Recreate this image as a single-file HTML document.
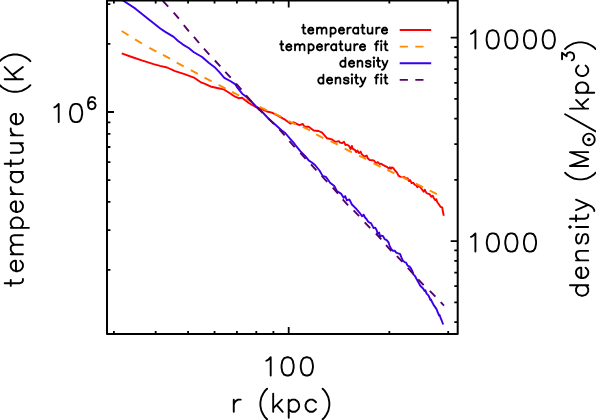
<!DOCTYPE html><html><head><meta charset="utf-8"><title>plot</title><style>html,body{margin:0;padding:0;background:#fff}svg{display:block}</style></head><body>
<svg width="596" height="420" viewBox="0 0 596 420">
<rect x="0" y="0" width="596" height="420" fill="#fff"/>
<defs><clipPath id="c"><rect x="107.0" y="0.4" width="350.7" height="333.6"/></clipPath></defs>
<g clip-path="url(#c)" fill="none" stroke-linejoin="round">
<path d="M121.7 53.4L131.8 57.0L141.8 60.4L153.6 64.1L160.0 65.8L167.1 67.5L175.1 71.1L184.5 74.2L194.6 77.9L200.4 82.1L205.0 83.8L211.5 86.8L220.5 88.7L224.3 89.7L229.5 93.0L235.1 96.7L238.7 98.2L242.2 97.7L245.2 100.2L249.2 103.2L255.3 106.8L259.3 108.1L266.9 111.5L271.9 112.7L278.7 116.1L285.4 119.9L290.2 123.5L293.6 122.3L299.4 125.2L302.8 124.0L304.5 126.8L308.7 126.8L313.7 130.5L318.7 131.0L322.1 132.7L327.1 138.3L332.1 139.4L335.5 141.9L338.9 141.1L340.0 142.6L342.0 143.1L344.0 141.8L345.5 145.1L347.0 144.6L349.1 146.1L350.6 149.1L351.9 145.9L352.6 148.6L355.1 150.1L356.1 152.1L357.3 150.6L359.1 153.1L360.6 151.6L361.7 154.1L364.2 156.7L366.7 155.6L367.7 158.2L369.7 160.0L372.2 160.2L374.2 160.7L375.8 163.2L377.8 162.2L379.8 164.2L381.3 163.7L383.3 165.2L385.3 166.2L387.3 167.2L388.8 168.7L389.9 167.2L390.9 168.7L391.9 167.4L393.4 168.2L395.0 170.5L397.0 172.6L398.5 175.6L400.0 176.6L402.0 177.1L404.1 176.9L406.1 178.6L407.6 178.1L409.1 181.1L410.1 180.1L411.6 183.1L413.1 182.6L414.6 184.6L416.1 185.1L417.4 187.2L418.7 185.6L420.7 187.7L422.2 189.7L423.7 191.7L424.7 189.7L426.2 192.7L427.7 193.7L429.7 194.2L431.3 196.7L432.8 195.7L433.8 198.2L435.3 200.2L436.3 199.2L437.3 202.3L438.8 204.3L440.3 206.6L442.3 207.7L442.8 211.3L443.8 215.8" stroke="#ff0000" stroke-width="1.9"/>
<path d="M121.7 31.0L128.5 35.2M135.1 39.4L141.9 43.5M149.4 47.8L156.4 51.7M163.0 54.9L170.0 58.7M176.7 62.6L183.7 66.4M190.8 70.1L197.8 73.9M204.5 77.6L211.6 81.4M218.6 84.9L225.7 88.6M232.0 91.8L239.1 95.5M246.1 99.0L253.1 102.8M259.8 106.8L266.9 110.4M274.3 113.4L281.5 116.9M288.5 121.0L295.7 124.4M302.8 126.8L310.0 130.3M316.2 134.4L323.3 138.1M330.5 141.1L337.7 144.7M344.7 148.7L351.8 152.3M359.1 155.6L366.2 159.2M373.5 163.2L380.6 166.8M387.2 169.9L394.4 173.4M401.2 176.6L408.4 180.1M415.8 183.6L423.0 187.1M429.7 190.5L436.9 194.1" stroke="#ff8c00" stroke-width="1.9"/>
<path d="M120.5 -1.2L123.4 0.8L135.1 8.4L148.6 19.3L160.3 28.5L165.3 31.9L173.7 36.9L177.8 40.7L183.0 44.6L188.7 48.0L193.9 52.2L202.1 57.0L208.7 62.8L215.3 67.8L219.4 72.2L224.3 77.8L230.2 81.0L235.1 84.1L236.8 86.8L242.2 93.7L248.2 98.3L253.7 104.0L259.3 109.8L261.9 111.5L268.4 118.5L276.8 126.0L281.8 130.5L285.2 133.0L290.2 138.8L294.2 143.4L295.0 144.6L300.3 151.2L305.3 156.2L308.7 160.4L311.5 162.2L315.0 165.0L319.5 170.5L322.6 175.9L325.9 176.8L330.1 182.7L334.3 186.0L336.8 191.0L341.0 193.6L343.6 197.8L345.2 196.1L346.9 200.3L349.4 199.4L351.9 204.5L356.1 208.7L360.2 213.5L362.0 216.2L363.7 214.7L365.0 217.5L366.5 219.0L368.0 221.5L369.5 222.6L371.0 223.1L372.6 226.1L373.6 228.1L375.1 227.6L376.6 230.1L377.6 233.6L379.1 232.6L380.1 236.7L381.6 235.6L383.1 236.1L384.6 239.2L386.7 240.2L388.7 242.7L389.7 246.2L391.2 248.7L392.7 250.8L394.7 250.6L396.2 252.6L398.2 253.3L400.0 253.8L401.5 257.6L402.9 260.6L404.6 262.1L406.1 262.6L407.6 265.6L409.6 266.6L411.1 268.6L412.6 271.7L413.6 274.7L415.1 276.2L416.7 279.2L418.7 282.7L420.3 285.8L423.1 288.5L424.6 290.9L425.3 290.2L426.6 293.6L428.6 295.6L430.4 299.9L431.0 299.6L431.7 301.3L433.7 305.1L436.4 308.9L437.7 312.2L439.0 315.4L439.6 315.0L440.7 318.2L443.2 324.5" stroke="#3a00e8" stroke-width="1.9"/>
<path d="M151.6 -11.4L157.0 -5.5M162.8 0.8L168.2 6.7M173.7 12.6L178.9 18.7M183.8 25.2L188.9 31.4M193.9 36.9L199.1 43.0M204.0 48.7L209.3 54.7M214.9 60.5L220.3 66.4M225.3 71.8L230.7 77.7M236.1 83.6L241.4 89.6M246.1 95.3L251.4 101.3M257.0 107.0L262.5 112.8M268.4 118.5L274.0 124.2M279.3 129.4L284.7 135.3M289.4 141.1L294.7 147.1M300.3 152.9L305.7 158.8M311.0 164.4L316.4 170.3M321.7 175.9L327.2 181.8M332.7 187.7L338.0 193.7M342.7 199.4L348.1 205.3M353.6 210.3L359.1 216.1M364.7 222.3L370.2 228.1M375.9 233.5L381.3 239.4M386.0 245.2L391.4 251.1M396.9 256.1L402.4 261.9M407.8 267.9L413.2 273.8M418.2 279.3L423.7 285.1M429.8 290.9L435.4 296.6M440.7 302.2L444.0 305.6" stroke="#56006a" stroke-width="1.9"/>
</g>
<rect x="107.0" y="0.4" width="350.7" height="333.6" fill="none" stroke="#000" stroke-width="2.0" stroke-linejoin="round"/>
<path d="M113.90 334.0V330.90M113.90 0.4V3.50M155.67 334.0V330.90M155.67 0.4V3.50M188.07 334.0V330.90M188.07 0.4V3.50M214.54 334.0V330.90M214.54 0.4V3.50M236.92 334.0V330.90M236.92 0.4V3.50M256.30 334.0V330.90M256.30 0.4V3.50M273.40 334.0V330.90M273.40 0.4V3.50M288.70 334.0V327.00M288.70 0.4V7.40M389.33 334.0V330.90M389.33 0.4V3.50M448.20 334.0V330.90M448.20 0.4V3.50M107.0 269.97H110.40M107.0 230.17H110.40M107.0 201.93H110.40M107.0 180.03H110.40M107.0 162.14H110.40M107.0 147.01H110.40M107.0 133.90H110.40M107.0 122.34H110.40M107.0 112.00H114.00M107.0 43.97H110.40M107.0 4.17H110.40M457.7 322.04H454.30M457.7 302.33H454.30M457.7 286.22H454.30M457.7 272.61H454.30M457.7 260.81H454.30M457.7 250.41H454.30M457.7 241.10H450.70M457.7 179.87H454.30M457.7 144.05H454.30M457.7 118.64H454.30M457.7 98.93H454.30M457.7 82.82H454.30M457.7 69.21H454.30M457.7 57.41H454.30M457.7 47.01H454.30M457.7 37.70H450.70" fill="none" stroke="#000" stroke-width="1.8"/>
<path d="M399.7 30.0H431.2" stroke="#ff0000" stroke-width="1.9" fill="none"/>
<path d="M399.7 46.6h8.2m7.4 0h8.2" stroke="#ff8c00" stroke-width="1.9" fill="none"/>
<path d="M399.7 63.2H431.2" stroke="#3a00e8" stroke-width="1.9" fill="none"/>
<path d="M399.7 79.9h8.2m7.4 0h8.2" stroke="#56006a" stroke-width="1.9" fill="none"/>
<path d="M302.15 27.67L303.44 27.67M303.44 27.67L303.44 24.65M303.44 27.67L303.44 31.98L303.87 33.27L304.73 33.70L305.59 33.70M303.44 27.67L305.16 27.67M308.15 30.25L308.15 31.11L308.58 32.41L309.45 33.27L310.31 33.70L311.60 33.70L312.46 33.27L313.33 32.41M308.15 30.25L308.58 28.96L309.45 28.10L310.31 27.67L311.60 27.67L312.46 28.10L312.89 28.53L313.33 29.39L313.33 30.25L308.15 30.25M316.99 27.67L316.99 29.39M316.99 29.39L316.99 33.70M316.99 29.39L318.28 28.10L319.15 27.67L320.44 27.67L321.30 28.10L321.73 29.39M321.73 29.39L321.73 33.70M321.73 29.39L323.02 28.10L323.89 27.67L325.18 27.67L326.04 28.10L326.47 29.39L326.47 33.70M330.58 27.67L330.58 28.96M330.58 28.96L330.58 32.41M330.58 28.96L331.44 28.10L332.31 27.67L333.60 27.67L334.46 28.10L335.32 28.96L335.75 30.25L335.75 31.11L335.32 32.41L334.46 33.27L333.60 33.70L332.31 33.70L331.44 33.27L330.58 32.41M330.58 32.41L330.58 36.72M338.84 30.25L338.84 31.11L339.27 32.41L340.13 33.27L341.00 33.70L342.29 33.70L343.15 33.27L344.01 32.41M338.84 30.25L339.27 28.96L340.13 28.10L341.00 27.67L342.29 27.67L343.15 28.10L343.58 28.53L344.01 29.39L344.01 30.25L338.84 30.25M347.45 27.67L347.45 30.25M347.45 30.25L347.45 33.70M347.45 30.25L347.88 28.96L348.74 28.10L349.60 27.67L350.90 27.67M358.22 28.96L357.36 28.10L356.50 27.67L355.21 27.67L354.34 28.10L353.48 28.96L353.05 30.25L353.05 31.11L353.48 32.41L354.34 33.27L355.21 33.70L356.50 33.70L357.36 33.27L358.22 32.41M358.22 28.96L358.22 27.67M358.22 28.96L358.22 32.41M358.22 32.41L358.22 33.70M361.23 27.67L362.52 27.67M362.52 27.67L362.52 24.65M362.52 27.67L362.52 31.98L362.95 33.27L363.81 33.70L364.68 33.70M362.52 27.67L364.25 27.67M367.68 27.67L367.68 31.98L368.11 33.27L368.97 33.70L370.27 33.70L371.13 33.27L372.42 31.98M372.42 31.98L372.42 27.67M372.42 31.98L372.42 33.70M376.30 27.67L376.30 30.25M376.30 30.25L376.30 33.70M376.30 30.25L376.73 28.96L377.59 28.10L378.46 27.67L379.75 27.67M381.89 30.25L381.89 31.11L382.32 32.41L383.19 33.27L384.05 33.70L385.34 33.70L386.20 33.27L387.06 32.41M381.89 30.25L382.32 28.96L383.19 28.10L384.05 27.67L385.34 27.67L386.20 28.10L386.63 28.53L387.06 29.39L387.06 30.25L381.89 30.25M280.16 44.27L281.45 44.27M281.45 44.27L281.45 41.25M281.45 44.27L281.45 48.58L281.89 49.87L282.75 50.30L283.61 50.30M281.45 44.27L283.18 44.27M286.17 46.85L286.17 47.71L286.60 49.01L287.46 49.87L288.32 50.30L289.62 50.30L290.48 49.87L291.34 49.01M286.17 46.85L286.60 45.56L287.46 44.70L288.32 44.27L289.62 44.27L290.48 44.70L290.91 45.13L291.34 45.99L291.34 46.85L286.17 46.85M295.01 44.27L295.01 45.99M295.01 45.99L295.01 50.30M295.01 45.99L296.30 44.70L297.16 44.27L298.46 44.27L299.32 44.70L299.75 45.99M299.75 45.99L299.75 50.30M299.75 45.99L301.04 44.70L301.90 44.27L303.20 44.27L304.06 44.70L304.49 45.99L304.49 50.30M308.60 44.27L308.60 45.56M308.60 45.56L308.60 49.01M308.60 45.56L309.46 44.70L310.32 44.27L311.62 44.27L312.48 44.70L313.34 45.56L313.77 46.85L313.77 47.71L313.34 49.01L312.48 49.87L311.62 50.30L310.32 50.30L309.46 49.87L308.60 49.01M308.60 49.01L308.60 53.32M316.86 46.85L316.86 47.71L317.29 49.01L318.15 49.87L319.01 50.30L320.30 50.30L321.17 49.87L322.03 49.01M316.86 46.85L317.29 45.56L318.15 44.70L319.01 44.27L320.30 44.27L321.17 44.70L321.60 45.13L322.03 45.99L322.03 46.85L316.86 46.85M325.46 44.27L325.46 46.85M325.46 46.85L325.46 50.30M325.46 46.85L325.89 45.56L326.76 44.70L327.62 44.27L328.91 44.27M336.24 45.56L335.38 44.70L334.52 44.27L333.22 44.27L332.36 44.70L331.50 45.56L331.07 46.85L331.07 47.71L331.50 49.01L332.36 49.87L333.22 50.30L334.52 50.30L335.38 49.87L336.24 49.01M336.24 45.56L336.24 44.27M336.24 45.56L336.24 49.01M336.24 49.01L336.24 50.30M339.24 44.27L340.54 44.27M340.54 44.27L340.54 41.25M340.54 44.27L340.54 48.58L340.97 49.87L341.83 50.30L342.69 50.30M340.54 44.27L342.26 44.27M345.70 44.27L345.70 48.58L346.13 49.87L346.99 50.30L348.28 50.30L349.14 49.87L350.44 48.58M350.44 48.58L350.44 44.27M350.44 48.58L350.44 50.30M354.32 44.27L354.32 46.85M354.32 46.85L354.32 50.30M354.32 46.85L354.75 45.56L355.61 44.70L356.47 44.27L357.77 44.27M359.91 46.85L359.91 47.71L360.34 49.01L361.20 49.87L362.06 50.30L363.36 50.30L364.22 49.87L365.08 49.01M359.91 46.85L360.34 45.56L361.20 44.70L362.06 44.27L363.36 44.27L364.22 44.70L364.65 45.13L365.08 45.99L365.08 46.85L359.91 46.85M374.97 44.27L376.26 44.27M376.26 44.27L376.26 42.97L376.69 41.68L377.55 41.25L378.42 41.25M376.26 44.27L376.26 50.30M376.26 44.27L377.99 44.27M381.27 44.27L381.27 50.30M380.84 41.25L381.27 40.82L381.70 41.25L381.27 41.68L380.84 41.25M384.13 44.27L385.42 44.27M385.42 44.27L385.42 41.25M385.42 44.27L385.42 48.58L385.85 49.87L386.71 50.30L387.58 50.30M385.42 44.27L387.15 44.27M345.40 62.06L344.54 61.20L343.68 60.77L342.38 60.77L341.52 61.20L340.66 62.06L340.23 63.35L340.23 64.21L340.66 65.51L341.52 66.37L342.38 66.80L343.68 66.80L344.54 66.37L345.40 65.51M345.40 62.06L345.40 57.75M345.40 62.06L345.40 65.51M345.40 65.51L345.40 66.80M348.92 63.35L348.92 64.21L349.35 65.51L350.21 66.37L351.07 66.80L352.36 66.80L353.23 66.37L354.09 65.51M348.92 63.35L349.35 62.06L350.21 61.20L351.07 60.77L352.36 60.77L353.23 61.20L353.66 61.63L354.09 62.49L354.09 63.35L348.92 63.35M357.60 60.77L357.60 62.49M357.60 62.49L357.60 66.80M357.60 62.49L358.90 61.20L359.76 60.77L361.05 60.77L361.91 61.20L362.35 62.49L362.35 66.80M365.85 65.51L366.28 66.37L367.57 66.80L368.87 66.80L370.16 66.37L370.59 65.51L370.59 65.08L370.16 64.21L369.30 63.78L367.14 63.35L366.28 62.92L365.85 62.06L366.28 61.20L367.57 60.77L368.87 60.77L370.16 61.20L370.59 62.06M373.94 60.77L373.94 66.80M373.51 57.75L373.94 57.32L374.37 57.75L373.94 58.18L373.51 57.75M376.80 60.77L378.09 60.77M378.09 60.77L378.09 57.75M378.09 60.77L378.09 65.08L378.52 66.37L379.39 66.80L380.25 66.80M378.09 60.77L379.82 60.77M381.92 69.82L382.35 69.82L383.21 69.39L384.07 68.52L384.94 66.80M382.35 60.77L384.94 66.80M384.94 66.80L387.52 60.77M323.42 78.86L322.55 78.00L321.69 77.57L320.40 77.57L319.54 78.00L318.67 78.86L318.24 80.15L318.24 81.01L318.67 82.31L319.54 83.17L320.40 83.60L321.69 83.60L322.55 83.17L323.42 82.31M323.42 78.86L323.42 74.55M323.42 78.86L323.42 82.31M323.42 82.31L323.42 83.60M326.93 80.15L326.93 81.01L327.36 82.31L328.23 83.17L329.09 83.60L330.38 83.60L331.24 83.17L332.10 82.31M326.93 80.15L327.36 78.86L328.23 78.00L329.09 77.57L330.38 77.57L331.24 78.00L331.67 78.43L332.10 79.29L332.10 80.15L326.93 80.15M335.62 77.57L335.62 79.29M335.62 79.29L335.62 83.60M335.62 79.29L336.91 78.00L337.78 77.57L339.07 77.57L339.93 78.00L340.36 79.29L340.36 83.60M343.86 82.31L344.30 83.17L345.59 83.60L346.88 83.60L348.17 83.17L348.61 82.31L348.61 81.88L348.17 81.01L347.31 80.58L345.16 80.15L344.30 79.72L343.86 78.86L344.30 78.00L345.59 77.57L346.88 77.57L348.17 78.00L348.61 78.86M351.96 77.57L351.96 83.60M351.53 74.55L351.96 74.12L352.39 74.55L351.96 74.98L351.53 74.55M354.82 77.57L356.11 77.57M356.11 77.57L356.11 74.55M356.11 77.57L356.11 81.88L356.54 83.17L357.40 83.60L358.26 83.60M356.11 77.57L357.83 77.57M359.94 86.62L360.37 86.62L361.23 86.19L362.09 85.32L362.95 83.60M360.37 77.57L362.95 83.60M362.95 83.60L365.54 77.57M374.97 77.57L376.26 77.57M376.26 77.57L376.26 76.27L376.69 74.98L377.55 74.55L378.42 74.55M376.26 77.57L376.26 83.60M376.26 77.57L377.99 77.57M381.27 77.57L381.27 83.60M380.84 74.55L381.27 74.12L381.70 74.55L381.27 74.98L380.84 74.55M384.13 77.57L385.42 77.57M385.42 77.57L385.42 74.55M385.42 77.57L385.42 81.88L385.85 83.17L386.71 83.60L387.58 83.60M385.42 77.57L387.15 77.57" fill="none" stroke="#000" stroke-width="1.8" stroke-linecap="round" stroke-linejoin="round"/>
<path d="M54.36 107.36L56.10 106.49L58.70 103.89L58.70 122.10M70.02 111.70L70.02 114.30L70.89 118.63L72.62 121.23L75.22 122.10L76.96 122.10L79.56 121.23L81.29 118.63L82.16 114.30L82.16 111.70L81.29 107.36L79.56 104.76L76.96 103.89L75.22 103.89L72.62 104.76L70.89 107.36L70.02 111.70M88.07 105.17L88.07 102.30L88.65 99.42L89.80 97.70L91.52 97.12L92.67 97.12L94.40 97.70L94.97 98.85M88.07 105.17L88.65 103.45L89.80 102.30L91.52 101.72L92.10 101.72L93.82 102.30L94.97 103.45L95.55 105.17L95.55 105.75L94.97 107.47L93.82 108.62L92.10 109.20L91.52 109.20L89.80 108.62L88.65 107.47L88.07 105.17M266.36 360.76L268.10 359.89L270.70 357.29L270.70 375.50M281.52 365.10L281.52 367.70L282.39 372.03L284.12 374.63L286.72 375.50L288.46 375.50L291.06 374.63L292.79 372.03L293.66 367.70L293.66 365.10L292.79 360.76L291.06 358.16L288.46 357.29L286.72 357.29L284.12 358.16L282.39 360.76L281.52 365.10M300.78 365.10L300.78 367.70L301.65 372.03L303.38 374.63L305.98 375.50L307.72 375.50L310.32 374.63L312.05 372.03L312.92 367.70L312.92 365.10L312.05 360.76L310.32 358.16L307.72 357.29L305.98 357.29L303.38 358.16L301.65 360.76L300.78 365.10M233.76 399.66L233.76 404.86M233.76 404.86L233.76 411.80M233.76 404.86L234.63 402.26L236.37 400.53L238.10 399.66L240.70 399.66M267.08 388.74L265.17 390.65L263.26 393.51L261.36 397.32L260.40 402.09L260.40 405.90L261.36 410.67L263.26 414.49L265.17 417.35L267.08 419.26M273.19 393.59L273.19 408.33M273.19 408.33L273.19 411.80M273.19 408.33L276.66 404.86M276.66 404.86L281.86 399.66M276.66 404.86L282.73 411.80M288.73 399.66L288.73 402.26M288.73 402.26L288.73 409.20M288.73 402.26L290.46 400.53L292.20 399.66L294.80 399.66L296.53 400.53L298.26 402.26L299.13 404.86L299.13 406.60L298.26 409.20L296.53 410.93L294.80 411.80L292.20 411.80L290.46 410.93L288.73 409.20M288.73 409.20L288.73 417.87M315.97 402.26L314.23 400.53L312.50 399.66L309.90 399.66L308.16 400.53L306.43 402.26L305.56 404.86L305.56 406.60L306.43 409.20L308.16 410.93L309.90 411.80L312.50 411.80L314.23 410.93L315.97 409.20M322.64 388.74L324.55 390.65L326.46 393.51L328.36 397.32L329.32 402.09L329.32 405.90L328.36 410.67L326.46 414.49L324.55 417.35L322.64 419.26M471.06 33.76L472.80 32.89L475.40 30.29L475.40 48.50M486.62 38.10L486.62 40.70L487.49 45.03L489.22 47.63L491.82 48.50L493.56 48.50L496.16 47.63L497.89 45.03L498.76 40.70L498.76 38.10L497.89 33.76L496.16 31.16L493.56 30.29L491.82 30.29L489.22 31.16L487.49 33.76L486.62 38.10M505.18 38.10L505.18 40.70L506.05 45.03L507.78 47.63L510.38 48.50L512.12 48.50L514.72 47.63L516.45 45.03L517.32 40.70L517.32 38.10L516.45 33.76L514.72 31.16L512.12 30.29L510.38 30.29L507.78 31.16L506.05 33.76L505.18 38.10M523.94 38.10L523.94 40.70L524.81 45.03L526.54 47.63L529.14 48.50L530.88 48.50L533.48 47.63L535.21 45.03L536.08 40.70L536.08 38.10L535.21 33.76L533.48 31.16L530.88 30.29L529.14 30.29L526.54 31.16L524.81 33.76L523.94 38.10M542.70 38.10L542.70 40.70L543.57 45.03L545.30 47.63L547.90 48.50L549.64 48.50L552.24 47.63L553.97 45.03L554.84 40.70L554.84 38.10L553.97 33.76L552.24 31.16L549.64 30.29L547.90 30.29L545.30 31.16L543.57 33.76L542.70 38.10M471.06 236.86L472.80 235.99L475.40 233.39L475.40 251.60M486.82 241.20L486.82 243.80L487.69 248.13L489.42 250.73L492.02 251.60L493.76 251.60L496.36 250.73L498.09 248.13L498.96 243.80L498.96 241.20L498.09 236.86L496.36 234.26L493.76 233.39L492.02 233.39L489.42 234.26L487.69 236.86L486.82 241.20M505.28 241.20L505.28 243.80L506.15 248.13L507.88 250.73L510.48 251.60L512.22 251.60L514.82 250.73L516.55 248.13L517.42 243.80L517.42 241.20L516.55 236.86L514.82 234.26L512.22 233.39L510.48 233.39L507.88 234.26L506.15 236.86L505.28 241.20M523.94 241.20L523.94 243.80L524.81 248.13L526.54 250.73L529.14 251.60L530.88 251.60L533.48 250.73L535.21 248.13L536.08 243.80L536.08 241.20L535.21 236.86L533.48 234.26L530.88 233.39L529.14 233.39L526.54 234.26L524.81 236.86L523.94 241.20M10.76 285.90L10.76 283.30M10.76 283.30L4.69 283.30M10.76 283.30L19.43 283.30L22.03 282.43L22.90 280.70L22.90 278.96M10.76 283.30L10.76 279.83M15.96 271.22L17.70 271.22L20.30 270.35L22.03 268.61L22.90 266.88L22.90 264.28L22.03 262.55L20.30 260.81M15.96 271.22L13.36 270.35L11.63 268.61L10.76 266.88L10.76 264.28L11.63 262.55L12.50 261.68L14.23 260.81L15.96 260.81L15.96 271.22M10.76 254.28L14.23 254.28M14.23 254.28L22.90 254.28M14.23 254.28L11.63 251.68L10.76 249.94L10.76 247.34L11.63 245.61L14.23 244.74M14.23 244.74L22.90 244.74M14.23 244.74L11.63 242.14L10.76 240.41L10.76 237.80L11.63 236.07L14.23 235.20L22.90 235.20M10.76 227.87L13.36 227.87M13.36 227.87L20.30 227.87M13.36 227.87L11.63 226.14L10.76 224.41L10.76 221.80L11.63 220.07L13.36 218.34L15.96 217.47L17.70 217.47L20.30 218.34L22.03 220.07L22.90 221.80L22.90 224.41L22.03 226.14L20.30 227.87M20.30 227.87L28.97 227.87M15.96 211.94L17.70 211.94L20.30 211.07L22.03 209.34L22.90 207.60L22.90 205.00L22.03 203.27L20.30 201.53M15.96 211.94L13.36 211.07L11.63 209.34L10.76 207.60L10.76 205.00L11.63 203.27L12.50 202.40L14.23 201.53L15.96 201.53L15.96 211.94M10.76 194.12L15.96 194.12M15.96 194.12L22.90 194.12M15.96 194.12L13.36 193.25L11.63 191.52L10.76 189.79L10.76 187.18M13.36 171.94L11.63 173.67L10.76 175.40L10.76 178.01L11.63 179.74L13.36 181.47L15.96 182.34L17.70 182.34L20.30 181.47L22.03 179.74L22.90 178.01L22.90 175.40L22.03 173.67L20.30 171.94M13.36 171.94L10.76 171.94M13.36 171.94L20.30 171.94M20.30 171.94L22.90 171.94M10.76 166.29L10.76 163.69M10.76 163.69L4.69 163.69M10.76 163.69L19.43 163.69L22.03 162.82L22.90 161.09L22.90 159.35M10.76 163.69L10.76 160.22M10.76 152.81L19.43 152.81L22.03 151.94L22.90 150.20L22.90 147.60L22.03 145.87L19.43 143.27M19.43 143.27L10.76 143.27M19.43 143.27L22.90 143.27M10.76 135.36L15.96 135.36M15.96 135.36L22.90 135.36M15.96 135.36L13.36 134.49L11.63 132.76L10.76 131.02L10.76 128.42M15.96 124.31L17.70 124.31L20.30 123.44L22.03 121.71L22.90 119.97L22.90 117.37L22.03 115.64L20.30 113.90M15.96 124.31L13.36 123.44L11.63 121.71L10.76 119.97L10.76 117.37L11.63 115.64L12.50 114.77L14.23 113.90L15.96 113.90L15.96 124.31M-0.16 85.14L1.75 87.04L4.61 88.95L8.42 90.86L13.19 91.81L17.00 91.81L21.77 90.86L25.59 88.95L28.45 87.04L30.36 85.14M4.69 79.20L16.83 79.20M16.83 79.20L22.90 79.20M16.83 79.20L12.50 74.87M12.50 74.87L4.69 67.07M12.50 74.87L22.90 67.07M-0.16 61.20L1.75 59.29L4.61 57.39L8.42 55.48L13.19 54.52L17.00 54.52L21.77 55.48L25.59 57.39L28.45 59.29L30.36 61.20M578.66 285.32L576.93 287.05L576.06 288.78L576.06 291.38L576.93 293.12L578.66 294.85L581.26 295.72L583.00 295.72L585.60 294.85L587.33 293.12L588.20 291.38L588.20 288.78L587.33 287.05L585.60 285.32M578.66 285.32L569.99 285.32M578.66 285.32L585.60 285.32M585.60 285.32L588.20 285.32M581.26 278.12L583.00 278.12L585.60 277.25L587.33 275.52L588.20 273.78L588.20 271.18L587.33 269.45L585.60 267.71M581.26 278.12L578.66 277.25L576.93 275.52L576.06 273.78L576.06 271.18L576.93 269.45L577.80 268.58L579.53 267.71L581.26 267.71L581.26 278.12M576.06 260.42L579.53 260.42M579.53 260.42L588.20 260.42M579.53 260.42L576.93 257.82L576.06 256.08L576.06 253.48L576.93 251.75L579.53 250.88L588.20 250.88M585.60 243.61L587.33 242.75L588.20 240.14L588.20 237.54L587.33 234.94L585.60 234.08L584.73 234.08L583.00 234.94L582.13 236.68L581.26 241.01L580.40 242.75L578.66 243.61L576.93 242.75L576.06 240.14L576.06 237.54L576.93 234.94L578.66 234.08M576.06 227.04L588.20 227.04M569.99 227.91L569.13 227.04L569.99 226.18L570.86 227.04L569.99 227.91M576.06 221.33L576.06 218.73M576.06 218.73L569.99 218.73M576.06 218.73L584.73 218.73L587.33 217.86L588.20 216.13L588.20 214.40M576.06 218.73L576.06 215.26M594.27 210.94L594.27 210.07L593.40 208.34L591.67 206.61L588.20 204.87M576.06 210.07L588.20 204.87M588.20 204.87L576.06 199.67M565.14 172.73L567.05 174.64L569.91 176.55L573.72 178.45L578.49 179.41L582.30 179.41L587.07 178.45L590.89 176.55L593.75 174.64L595.66 172.73M588.20 166.01L569.99 166.01L588.20 159.07L569.99 152.14L588.20 152.14M583.05 139.5a5.85 5.85 0 1 0 11.7 0a5.85 5.85 0 1 0 -11.7 0M595.66 131.38L565.14 114.21M569.99 108.60L584.73 108.60M584.73 108.60L588.20 108.60M584.73 108.60L581.26 105.13M581.26 105.13L576.06 99.93M581.26 105.13L588.20 99.06M576.06 92.76L578.66 92.76M578.66 92.76L585.60 92.76M578.66 92.76L576.93 91.03L576.06 89.29L576.06 86.69L576.93 84.96L578.66 83.22L581.26 82.36L583.00 82.36L585.60 83.22L587.33 84.96L588.20 86.69L588.20 89.29L587.33 91.03L585.60 92.76M585.60 92.76L594.27 92.76M578.66 65.62L576.93 67.36L576.06 69.09L576.06 71.69L576.93 73.43L578.66 75.16L581.26 76.03L583.00 76.03L585.60 75.16L587.33 73.43L588.20 71.69L588.20 69.09L587.33 67.36L585.60 65.62M571.80 60.34L572.95 59.77L573.52 59.19L574.10 57.47L574.10 55.74L573.52 54.02L572.38 52.87L570.65 52.29L569.50 52.29L567.77 52.87L567.20 53.44L566.62 54.59L566.62 56.32L562.02 52.87L562.02 59.19M565.14 49.04L567.05 47.14L569.91 45.23L573.72 43.32L578.49 42.37L582.30 42.37L587.07 43.32L590.89 45.23L593.75 47.14L595.66 49.04" fill="none" stroke="#000" stroke-width="1.9" stroke-linecap="round" stroke-linejoin="round"/>
<circle cx="588.9" cy="139.5" r="1.75" fill="#000"/>
</svg></body></html>
